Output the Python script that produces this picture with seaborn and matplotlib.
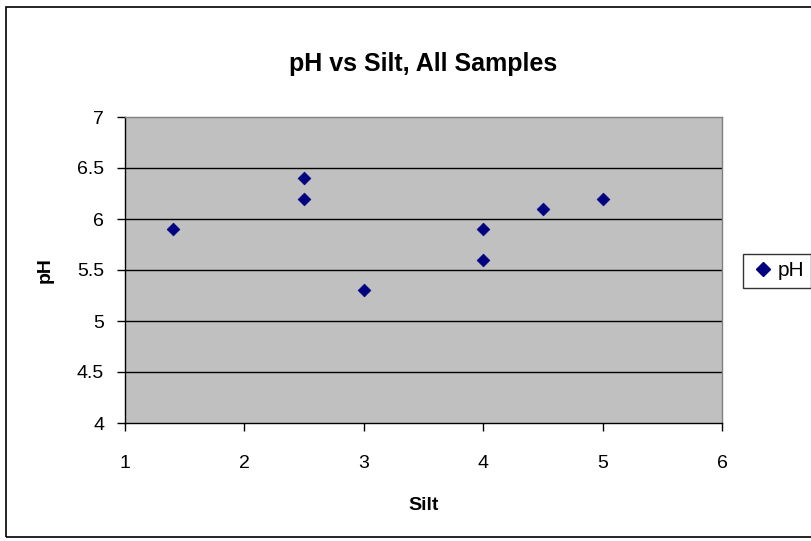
import matplotlib
matplotlib.use("Agg")
import matplotlib.pyplot as plt
import seaborn as sns
import pandas as pd
from matplotlib.patches import Rectangle
from matplotlib.lines import Line2D

silt = [1.4, 2.5, 2.5, 3.0, 4.0, 4.0, 4.5, 5.0]
ph = [5.9, 6.4, 6.2, 5.3, 5.9, 5.6, 6.1, 6.2]
xticks = [1, 2, 3, 4, 5, 6]
yticks = [4, 4.5, 5, 5.5, 6, 6.5, 7]
yticklabels = ["4", "4.5", "5", "5.5", "6", "6.5", "7"]

df = pd.DataFrame({"Silt": silt, "pH": ph})

sns.set_style("white")
plt.rcParams['font.family'] = ['Liberation Sans', 'DejaVu Sans']
plt.rcParams['text.color'] = 'black'
plt.rcParams['axes.labelcolor'] = 'black'

fig = plt.figure(figsize=(8.11, 5.41), dpi=100)
ax = fig.add_axes([125/811, 1 - 423/541, (722-125)/811, (423-117)/541])
ax.set_facecolor("#c0c0c0")

sns.scatterplot(data=df, x="Silt", y="pH", ax=ax, marker="D", s=42,
                color="#000080", edgecolor="#000080", linewidth=0.5,
                legend=False, zorder=3)

ax.set_xlim(1, 6)
ax.set_ylim(4, 7)
ax.set_xticks(xticks)
ax.set_yticks(yticks)
ax.set_yticklabels(yticklabels)
for y in yticks[1:-1]:
    ax.axhline(y, color="black", linewidth=1, zorder=1)

ax.tick_params(axis="both", direction="out", length=6, width=1, colors="black",
               labelsize=14, left=True, bottom=True)
ax.tick_params(axis="y", pad=9)
ax.tick_params(axis="x", pad=17)
for s in ["left", "bottom"]:
    ax.spines[s].set_color("black")
    ax.spines[s].set_linewidth(1)
for s in ["top", "right"]:
    ax.spines[s].set_color("#808080")
    ax.spines[s].set_linewidth(1)

ax.set_title("pH vs Silt, All Samples", fontsize=18, fontweight="bold", pad=33)
ax.set_xlabel("Silt", fontsize=14, fontweight="bold", labelpad=18)
ax.set_ylabel("pH", fontsize=14, fontweight="bold", labelpad=17)

handles = [Line2D([], [], marker="D", color="#000080", linestyle="none", markersize=7)]
labels = ["pH"]
leg = fig.legend(handles, labels, loc="center left",
                 bbox_to_anchor=(743/811, 1 - 271/541), frameon=True,
                 fontsize=15, fancybox=False, handletextpad=0.1,
                 borderpad=0.35, handlelength=1.2, borderaxespad=0)
leg.get_frame().set_edgecolor("black")
leg.get_frame().set_linewidth(1)
leg.get_frame().set_facecolor("white")

fig.patches.append(Rectangle((6/811, 4/541), 1.0, (541-11)/541, transform=fig.transFigure,
                             fill=False, edgecolor="black", linewidth=1.2))

fig.savefig("out.png", dpi=100)
